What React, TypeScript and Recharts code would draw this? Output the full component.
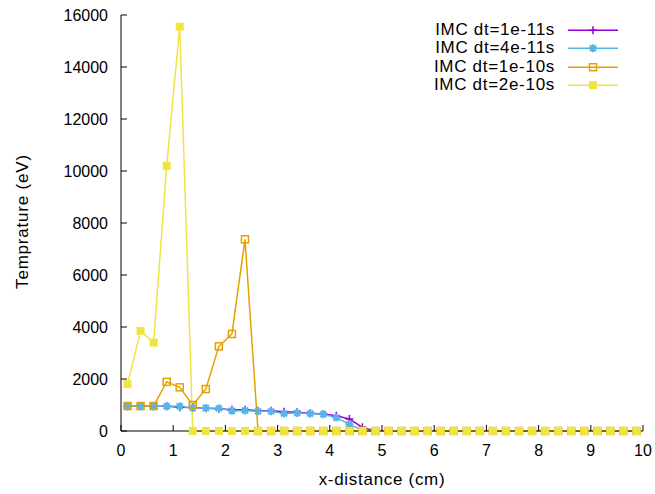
import { LineChart, Line, XAxis, YAxis, Legend } from "recharts"

// x positions of the cells (cm)
const xPositions = [
  0.125, 0.375, 0.625, 0.875, 1.125, 1.375, 1.625, 1.875, 2.125, 2.375,
  2.625, 2.875, 3.125, 3.375, 3.625, 3.875, 4.125, 4.375, 4.625, 4.875,
  5.125, 5.375, 5.625, 5.875, 6.125, 6.375, 6.625, 6.875, 7.125, 7.375,
  7.625, 7.875, 8.125, 8.375, 8.625, 8.875, 9.125, 9.375, 9.625, 9.875,
]

// temperature (eV) per time step
const dt1e11 = [
  950, 950, 950, 950, 910, 900, 872, 860, 820, 820,
  782, 780, 744, 718, 680, 654, 590, 460, 140, 0,
  0, 0, 0, 0, 0, 0, 0, 0, 0, 0,
  0, 0, 0, 0, 0, 0, 0, 0, 0, 0,
]
const dt4e11 = [
  950, 950, 950, 950, 950, 885, 885, 870, 780, 790,
  755, 755, 670, 695, 670, 645, 515, 257, 30, 0,
  0, 0, 0, 0, 0, 0, 0, 0, 0, 0,
  0, 0, 0, 0, 0, 0, 0, 0, 0, 0,
]
const dt1e10 = [
  960, 960, 960, 1890, 1680, 1000, 1615, 3257, 3731, 7373,
  0, 0, 0, 0, 0, 0, 0, 0, 0, 0,
  0, 0, 0, 0, 0, 0, 0, 0, 0, 0,
  0, 0, 0, 0, 0, 0, 0, 0, 0, 0,
]
const dt2e10 = [
  1800, 3850, 3400, 10200, 15550, 0, 0, 0, 0, 0,
  0, 0, 0, 0, 0, 0, 0, 0, 0, 0,
  0, 0, 0, 0, 0, 0, 0, 0, 0, 0,
  0, 0, 0, 0, 0, 0, 0, 0, 0, 0,
]

const xTicks = [0, 1, 2, 3, 4, 5, 6, 7, 8, 9, 10]
const yTicks = [0, 2000, 4000, 6000, 8000, 10000, 12000, 14000, 16000]

const FONT = "'Liberation Sans', Arial, Helvetica, sans-serif"

const SERIES = [
  { key: "dt1e11", name: "IMC dt=1e-11s", color: "#9400d3", marker: "plus" },
  { key: "dt4e11", name: "IMC dt=4e-11s", color: "#56b4e9", marker: "star" },
  { key: "dt1e10", name: "IMC dt=1e-10s", color: "#e69f00", marker: "open" },
  { key: "dt2e10", name: "IMC dt=2e-10s", color: "#f0e442", marker: "filled" },
]

const data = xPositions.map((x, i) => ({
  x,
  dt1e11: dt1e11[i],
  dt4e11: dt4e11[i],
  dt1e10: dt1e10[i],
  dt2e10: dt2e10[i],
}))

function Marker({ cx, cy, type, color }: { cx: number; cy: number; type: string; color: string }) {
  if (cx == null || cy == null) return null
  switch (type) {
    case "plus":
      return <path d={`M${cx - 4},${cy}h8M${cx},${cy - 4}v8`} stroke={color} strokeWidth={1.5} fill="none" />
    case "star":
      return (
        <path
          d={`M${cx - 4},${cy}h8M${cx},${cy - 4}v8M${cx - 3},${cy - 3}l6,6M${cx - 3},${cy + 3}l6,-6`}
          stroke={color}
          strokeWidth={2}
          fill="none"
        />
      )
    case "open":
      return <rect x={cx - 3.5} y={cy - 3.5} width={7} height={7} stroke={color} strokeWidth={1.5} fill="none" />
    default:
      return <rect x={cx - 4} y={cy - 4} width={8} height={8} fill={color} />
  }
}

// legend rows: text right-aligned at x=555, line sample 568..618
function LegendBox() {
  return (
    <div style={{ fontFamily: FONT, fontSize: 17, letterSpacing: 0.7, color: "#000" }}>
      {SERIES.map((s) => (
        <div key={s.key} style={{ display: "flex", alignItems: "center", height: 18.4 }}>
          <span style={{ width: 145, textAlign: "right", lineHeight: "18.4px", whiteSpace: "nowrap" }}>{s.name}</span>
          <svg width={65} height={18.4} style={{ display: "block" }}>
            <line x1={13} x2={63} y1={9.2} y2={9.2} stroke={s.color} strokeWidth={1.5} />
            <Marker cx={38} cy={9.2} type={s.marker} color={s.color} />
          </svg>
        </div>
      ))}
    </div>
  )
}

export default function App() {
  return (
    <div style={{ position: "absolute", left: 0, top: 0, background: "#fff" }}>
      <LineChart width={655} height={494} data={data} margin={{ top: 15, right: 12, bottom: 0, left: 0 }}>
        <XAxis
          dataKey="x"
          type="number"
          domain={[0, 10]}
          ticks={xTicks}
          interval={0}
          height={63}
          tickSize={-6}
          tickMargin={19.5}
          stroke="#000"
          tick={{ fill: "#000", fontSize: 16, fontFamily: FONT }}
          label={{
            value: "x-distance (cm)",
            position: "insideBottom",
            offset: 9,
            fill: "#000",
            fontSize: 17,
            fontFamily: FONT,
            style: { letterSpacing: 0.7 },
          }}
        />
        <XAxis
          xAxisId="top"
          orientation="top"
          dataKey="x"
          type="number"
          domain={[0, 10]}
          ticks={xTicks}
          interval={0}
          height={0}
          tickSize={-6}
          tick={false}
          stroke="#000"
        />
        <YAxis
          type="number"
          domain={[0, 16000]}
          ticks={yTicks}
          interval={0}
          width={121}
          tickSize={-6}
          tickMargin={19}
          stroke="#000"
          tick={{ fill: "#000", fontSize: 16, fontFamily: FONT }}
          label={{
            content: ({ viewBox }: any) => {
              const cy = viewBox.y + viewBox.height / 2 - 1.5
              return (
                <text
                  x={22}
                  y={cy}
                  transform={`rotate(-90, 22, ${cy})`}
                  textAnchor="middle"
                  dominantBaseline="central"
                  fill="#000"
                  fontSize={17}
                  fontFamily={FONT}
                  style={{ letterSpacing: 0.8 }}
                >
                  Temprature (eV)
                </text>
              )
            },
          }}
        />
        <YAxis
          yAxisId="right"
          orientation="right"
          type="number"
          domain={[0, 16000]}
          ticks={yTicks}
          interval={0}
          width={0}
          tickSize={-6}
          tick={false}
          stroke="#000"
        />
        {SERIES.map((s) => (
          <Line
            key={s.key}
            dataKey={s.key}
            name={s.name}
            type="linear"
            stroke={s.color}
            strokeWidth={1.5}
            isAnimationActive={false}
            dot={(p: any) => <Marker key={`${s.key}-${p.index}`} cx={p.cx} cy={p.cy} type={s.marker} color={s.color} />}
            activeDot={false}
          />
        ))}
        <Legend
          layout="horizontal"
          verticalAlign="middle"
          align="center"
          content={() => <LegendBox />}
          wrapperStyle={{ position: "absolute", top: 20.8, left: 410, width: 215 }}
        />
      </LineChart>
    </div>
  )
}
